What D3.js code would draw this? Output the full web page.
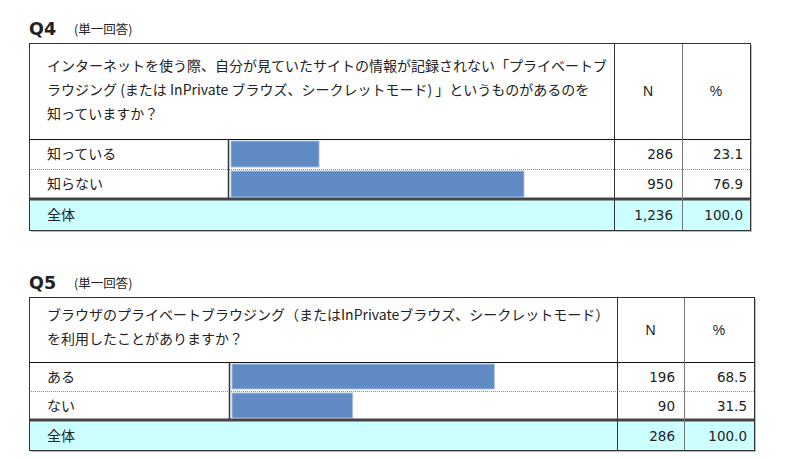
<!DOCTYPE html>
<html>
<head>
<meta charset="utf-8">
<script src="https://cdn.jsdelivr.net/npm/d3@7"></script>
<style>
  body { margin: 0; background: #fff; }
  text { fill: #222; }
</style>
</head>
<body>
<div id="chart"></div>
<script>
// Q4
const q4Title = "Q4";
const q4Question = [
  "インターネットを使う際、自分が見ていたサイトの情報が記録されない「プライベートブ",
  "ラウジング (または InPrivate ブラウズ、シークレットモード) 」というものがあるのを",
  "知っていますか？"
];
const q4Labels = ["知っている", "知らない"];
const q4N = [286, 950];
const q4Pct = [23.1, 76.9];
const q4TotalN = 1236;
const q4TotalPct = 100.0;

// Q5
const q5Title = "Q5";
const q5Question = [
  "ブラウザのプライベートブラウジング（またはInPrivateブラウズ、シークレットモード）",
  "を利用したことがありますか？"
];
const q5Labels = ["ある", "ない"];
const q5N = [196, 90];
const q5Pct = [68.5, 31.5];
const q5TotalN = 286;
const q5TotalPct = 100.0;

const headN = "N";
const headPct = "%";
const totalLabel = "全体";
const answerType = "(単一回答)";

const jp = "'Noto Sans CJK JP', sans-serif";
const num = "'DejaVu Sans', sans-serif";

const svg = d3.select("#chart").append("svg")
  .attr("width", 800).attr("height", 459);

svg.append("rect").attr("width", 800).attr("height", 459).attr("fill", "#fff");

function drawTable(t) {
  const g = svg.append("g");
  const x = d3.scaleLinear().domain([0, 100]).range([t.barX0, t.barX1]);
  const fmt = d3.format(",");

  // title
  g.append("text").attr("x", t.left).attr("y", t.titleY)
    .style("font-family", num).style("font-weight", "bold").style("font-size", "17.5px")
    .text(t.title);
  g.append("text").attr("x", t.left + 45).attr("y", t.titleY - 1)
    .style("font-family", jp).style("font-size", "12.5px")
    .text(answerType);

  const rowY = t.rows.map((_, i) => t.headBottom + i * t.rowH);
  const totalTop = t.headBottom + t.rows.length * t.rowH + 1;
  const bottom = totalTop + t.rowH;

  // total row fill
  g.append("rect").attr("x", t.left).attr("y", totalTop)
    .attr("width", t.right - t.left).attr("height", t.rowH)
    .attr("fill", "#ccffff");

  // bars
  g.selectAll("rect.bar").data(t.pct).join("rect")
    .attr("class", "bar")
    .attr("x", x(0))
    .attr("y", (d, i) => rowY[i] + 2)
    .attr("width", d => x(d) - x(0))
    .attr("height", t.rowH - 4)
    .attr("fill", "#5f8ac4")
    .attr("stroke", "#a9c0e2").attr("stroke-width", 1);

  // question text
  g.selectAll("text.q").data(t.question).join("text")
    .attr("class", "q")
    .attr("x", t.left + 18)
    .attr("y", (d, i) => t.qY + i * t.qLine)
    .style("font-family", jp).style("font-size", "14px")
    .text(d => d);

  const hMid = (t.top + t.headBottom) / 2 + 5;
  g.append("text").attr("x", (t.colN + t.colP) / 2).attr("y", hMid)
    .attr("text-anchor", "middle")
    .style("font-family", "'Liberation Sans', Arial, sans-serif").style("font-size", "14px")
    .text(headN);
  g.append("text").attr("x", (t.colP + t.right) / 2).attr("y", hMid)
    .attr("text-anchor", "middle")
    .style("font-family", "'Liberation Sans', Arial, sans-serif").style("font-size", "14px")
    .text(headPct);

  // rows text
  t.rows.forEach((lab, i) => {
    const cy = rowY[i] + t.rowH / 2 + 5;
    g.append("text").attr("x", t.left + 18).attr("y", cy)
      .style("font-family", jp).style("font-size", "14px").text(lab);
    g.append("text").attr("x", t.colP - 9).attr("y", cy).attr("text-anchor", "end")
      .style("font-family", num).style("font-size", "13.5px").text(fmt(t.n[i]));
    g.append("text").attr("x", t.right - 7).attr("y", cy).attr("text-anchor", "end")
      .style("font-family", num).style("font-size", "13.5px").text(t.pct[i].toFixed(1));
  });
  const ty = totalTop + t.rowH / 2 + 5;
  g.append("text").attr("x", t.left + 18).attr("y", ty)
    .style("font-family", jp).style("font-size", "14px").text(totalLabel);
  g.append("text").attr("x", t.colP - 9).attr("y", ty).attr("text-anchor", "end")
    .style("font-family", num).style("font-size", "13.5px").text(fmt(t.totalN));
  g.append("text").attr("x", t.right - 7).attr("y", ty).attr("text-anchor", "end")
    .style("font-family", num).style("font-size", "13.5px").text(t.totalPct.toFixed(1));

  // lines
  const line = (x1, y1, x2, y2, c, w, dash) => g.append("line")
    .attr("x1", x1).attr("y1", y1).attr("x2", x2).attr("y2", y2)
    .attr("stroke", c).attr("stroke-width", w)
    .attr("stroke-dasharray", dash || null);

  // shadow
  line(t.right + 1.5, t.top + 2, t.right + 1.5, bottom + 1.5, "#bbb", 1);
  line(t.left + 2, bottom + 1.5, t.right + 1.5, bottom + 1.5, "#bbb", 1);

  // row separators (dotted)
  for (let i = 1; i < t.rows.length; i++) {
    line(t.left, rowY[i] + 0.5, t.right, rowY[i] + 0.5, "#888", 1, "1,1");
  }
  line(t.left, t.headBottom + 0.5, t.right, t.headBottom + 0.5, "#111", 1);
  line(t.left, totalTop - 1, t.right, totalTop - 1, "#444", 3);
  line(t.barX0 - 2.5, t.headBottom, t.barX0 - 2.5, totalTop - 2, "#333", 1.5);
  line(t.colN + 0.5, t.top, t.colN + 0.5, bottom, "#333", 1);
  line(t.colP + 0.5, t.top, t.colP + 0.5, bottom, "#777", 1);

  g.append("rect").attr("x", t.left + 0.5).attr("y", t.top + 0.5)
    .attr("width", t.right - t.left).attr("height", bottom - t.top)
    .attr("fill", "none").attr("stroke", "#333").attr("stroke-width", 1);
}

drawTable({
  title: q4Title, question: q4Question, rows: q4Labels, n: q4N, pct: q4Pct,
  totalN: q4TotalN, totalPct: q4TotalPct,
  left: 29, right: 750, top: 43, headBottom: 139, rowH: 30,
  colN: 614, colP: 682, barX0: 231, barX1: 612,
  titleY: 35, qY: 71, qLine: 24
});

drawTable({
  title: q5Title, question: q5Question, rows: q5Labels, n: q5N, pct: q5Pct,
  totalN: q5TotalN, totalPct: q5TotalPct,
  left: 29, right: 754, top: 297, headBottom: 362, rowH: 29,
  colN: 617, colP: 684, barX0: 232, barX1: 615,
  titleY: 289, qY: 320, qLine: 24
});
</script>
</body>
</html>
